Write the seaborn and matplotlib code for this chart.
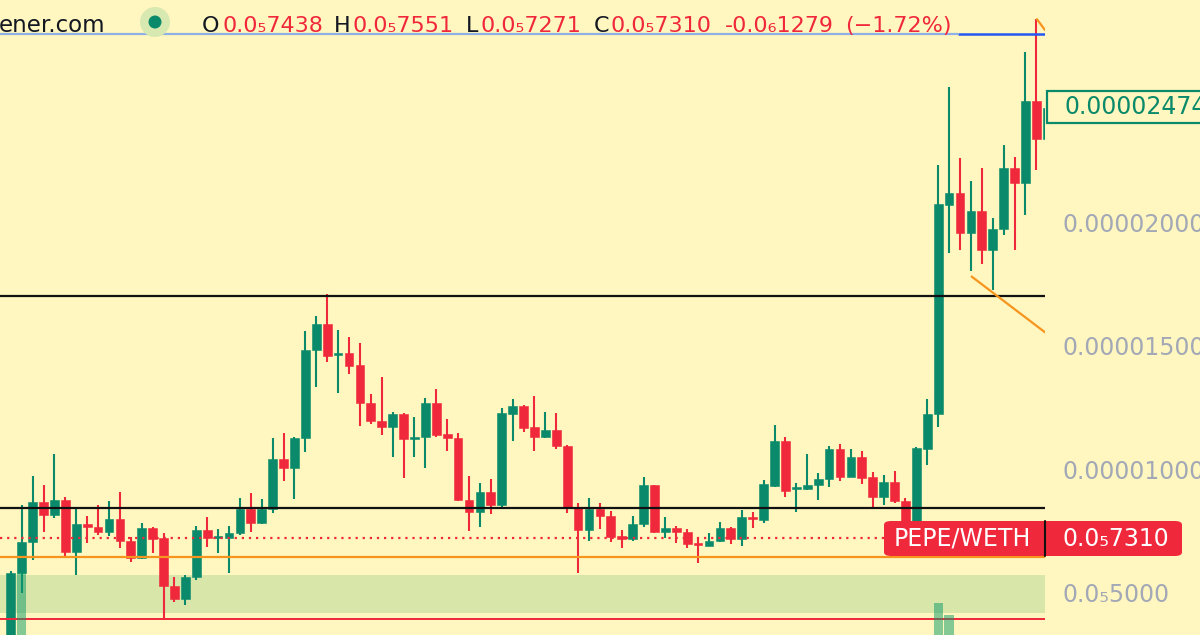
import matplotlib
matplotlib.use("Agg")
import matplotlib.pyplot as plt
import matplotlib.transforms as mtransforms
from matplotlib.patches import Rectangle, FancyBboxPatch, Ellipse
import numpy as np
import pandas as pd
import seaborn as sns

# ---------------- data (prices in units of 1e-6) ----------------
open_e6 = [2.00, 5.88, 7.14, 8.76, 8.24, 8.85, 6.76, 7.88, 7.77, 7.57,
           8.07, 7.19, 6.51, 7.71, 7.30, 5.37, 4.84, 5.72, 7.64, 7.32,
           7.32, 7.50, 8.48, 7.91, 8.48, 10.50, 10.16, 11.35, 14.93, 15.97,
           14.72, 14.82, 14.33, 12.80, 12.06, 11.82, 12.34, 11.33, 11.39, 12.80,
           11.53, 11.38, 8.85, 8.38, 9.17, 8.65, 12.34, 12.66, 11.82, 11.39,
           11.69, 11.05, 8.57, 7.64, 8.48, 8.20, 7.39, 7.26, 7.88, 9.45,
           7.57, 7.71, 7.54, 7.10, 7.00, 7.19, 7.71, 7.26, 8.18, 8.04,
           9.42, 11.26, 9.29, 9.29, 9.46, 9.69, 10.91, 9.80, 10.61, 9.77,
           8.99, 9.59, 8.82, 7.88, 10.92, 12.33, 20.81, 21.31, 19.69, 20.58,
           18.99, 19.83, 22.30, 21.69, 25.03, 23.49]
high_e6 = [5.97, 8.65, 9.83, 9.46, 10.72, 8.99, 8.52, 8.20, 8.65, 8.81,
           9.17, 7.37, 7.91, 7.77, 7.50, 5.74, 5.81, 7.80, 8.15, 7.67,
           7.80, 8.92, 9.15, 8.88, 11.35, 11.56, 11.42, 15.70, 16.32, 17.20,
           15.74, 15.45, 15.20, 13.15, 13.85, 12.41, 12.37, 12.23, 12.98, 13.34,
           12.12, 11.56, 9.84, 9.53, 9.69, 12.57, 12.93, 12.70, 13.08, 12.43,
           12.37, 11.08, 8.72, 8.92, 8.72, 8.41, 7.64, 8.20, 9.77, 9.47,
           8.15, 7.81, 7.68, 7.30, 7.50, 7.97, 7.77, 8.45, 8.38, 9.66,
           11.89, 11.39, 9.55, 10.72, 9.94, 11.04, 11.12, 10.91, 10.84, 10.00,
           9.87, 10.04, 8.95, 11.01, 12.93, 22.43, 25.61, 22.73, 21.78, 22.30,
           20.27, 23.24, 22.77, 27.02, 28.34, 24.80]
low_e6 = [1.90, 5.10, 6.42, 7.54, 8.14, 6.55, 5.81, 7.12, 7.43, 7.39,
          6.90, 6.35, 6.45, 6.69, 3.99, 4.73, 4.60, 5.61, 6.96, 6.69,
          5.91, 7.43, 7.57, 7.87, 8.31, 9.64, 8.88, 10.81, 13.45, 14.46,
          13.18, 13.95, 11.86, 11.92, 11.49, 10.61, 9.73, 10.61, 10.14, 11.42,
          10.85, 8.80, 7.61, 7.75, 8.27, 8.58, 11.24, 11.62, 10.84, 11.35,
          10.92, 8.31, 5.88, 7.19, 7.67, 7.16, 6.90, 7.20, 7.77, 7.50,
          7.32, 7.10, 6.90, 6.31, 6.98, 7.17, 7.06, 7.00, 7.73, 7.93,
          9.39, 8.96, 8.38, 9.26, 8.85, 9.39, 9.64, 9.77, 9.49, 8.56,
          8.65, 8.74, 7.72, 7.64, 10.27, 11.80, 18.88, 18.99, 18.15, 18.42,
          17.37, 19.59, 18.99, 20.41, 22.23, 23.45]
close_e6 = [5.91, 7.16, 8.76, 8.24, 8.85, 6.76, 7.88, 7.75, 7.57, 8.07,
            7.19, 6.51, 7.71, 7.27, 5.37, 4.84, 5.74, 7.64, 7.30, 7.39,
            7.53, 8.48, 7.91, 8.48, 10.50, 10.16, 11.38, 14.93, 15.97, 14.70,
            14.82, 14.30, 12.77, 12.06, 11.82, 12.34, 11.33, 11.42, 12.80, 11.49,
            11.35, 8.85, 8.38, 9.17, 8.65, 12.37, 12.66, 11.78, 11.39, 11.69,
            11.04, 8.55, 7.65, 8.48, 8.20, 7.37, 7.26, 7.88, 9.45, 7.57,
            7.71, 7.54, 7.06, 7.03, 7.19, 7.71, 7.26, 8.18, 8.07, 9.49,
            11.26, 9.22, 9.35, 9.46, 9.69, 10.91, 9.80, 10.61, 9.76, 8.99,
            9.59, 8.82, 7.84, 10.95, 12.33, 20.84, 21.31, 19.69, 20.58, 18.99,
            19.84, 22.30, 21.69, 25.03, 23.49, 24.74]

vol_index = [1, 85, 86]
vol_rel = [1.00, 0.52, 0.32]

tick_values_e6 = [20, 15, 10, 5]
tick_labels = ["0.00002000", "0.00001500", "0.00001000", "0.0\u20855000"]

resist_e6 = [17.12, 8.53]
orange_level_e6 = 6.54
red_level_e6 = 4.03
band_e6 = (4.27, 5.81)
blue_level_e6 = 27.76
pair_price_e6 = 7.31
last_price_e6 = 24.74

last_price_label = "0.00002474"
pair_label = "PEPE/WETH"
pair_price_label = "0.0\u20857310"
header_site = "ener.com"
header_items = [("O", "0.0\u20857438"), ("H", "0.0\u20857551"),
                ("L", "0.0\u20857271"), ("C", "0.0\u20857310")]
change_label = "-0.0\u20861279"
pct_label = "(\u22121.72%)"

# ---------------- style ----------------
sns.set_theme(style="white")
plt.rcParams["font.family"] = ["DejaVu Sans"]

BG = "#fff7bf"
UP = "#0b8a6b"
DOWN = "#f0283c"
AXIS_TXT = "#a2a8b6"

W, H = 1200, 635
fig = plt.figure(figsize=(W / 100, H / 100), dpi=100, facecolor=BG)

PLOT_R = 1045
ax = fig.add_axes([0, 0, PLOT_R / W, 1])
ax.set_facecolor("none")
ax.set_axis_off()

step = 10.91
x0 = 10.8
ax.set_xlim(-x0 / step, (PLOT_R - x0) / step)
ax.set_ylim(3.38, 29.12)

df = pd.DataFrame({"o": open_e6, "h": high_e6, "l": low_e6, "c": close_e6})
df["i"] = np.arange(len(df))
df["up"] = df["c"] >= df["o"]
colors = np.where(df["up"], UP, DOWN)

# band below candles
ax.axhspan(band_e6[0], band_e6[1], color="#d8e6aa", zorder=1, lw=0)

# wicks
ax.vlines(df["i"], df["l"], df["h"], colors=colors, lw=1.5, zorder=3)
# bodies
bottom = np.minimum(df["o"], df["c"])
height = np.maximum(np.abs(df["c"] - df["o"]), 0.07)
ax.bar(df["i"], height, bottom=bottom, width=0.8, color=colors,
       edgecolor=colors, lw=0.4, zorder=4)

# horizontal drawings (over candles)
for lv in resist_e6:
    ax.axhline(lv, color="#111111", lw=1.6, zorder=6)
ax.axhline(orange_level_e6, color="#f7941d", lw=1.6, zorder=6)
ax.axhline(red_level_e6, color="#f0283c", lw=1.4, zorder=6)
ax.axhline(pair_price_e6, color="#f0283c", lw=1.6, ls=(0, (1, 2.2)), zorder=6)
xl = ax.get_xlim()
xb = (958 - x0) / step
ax.hlines(blue_level_e6, xl[0], xb, color="#8fb0e6", lw=1.6, zorder=6)
ax.hlines(blue_level_e6, xb, xl[1], color="#2456f2", lw=1.8, zorder=6)

# orange trend lines
ax.plot([(971 - x0) / step, (1046 - x0) / step], [17.93, 15.62],
        color="#f7941d", lw=1.6, zorder=6, solid_capstyle="butt")
ax.plot([(1037 - x0) / step, (1045 - x0) / step], [28.34, 27.90],
        color="#f7941d", lw=1.6, zorder=6)

# volume bars (twin axis)
axv = ax.twinx()
axv.set_axis_off()
axv.set_ylim(0, 635 / 62)
axv.bar(vol_index, vol_rel, width=0.85, color="#0a9a6a", alpha=0.5, lw=0, zorder=2)

# ---------------- text overlays ----------------
def fx(px):
    return px / W

def fy(py):
    return 1 - py / H

# right axis labels
trans = mtransforms.blended_transform_factory(ax.transAxes, ax.transData)
for v, lab in zip(tick_values_e6, tick_labels):
    ax.text(1063 / PLOT_R, v, lab, transform=trans, ha="left", va="center",
            fontsize=17, color=AXIS_TXT, clip_on=False)

# last price box
fig.add_artist(Rectangle((fx(1047), fy(123)), (1210 - 1047) / W, 32 / H,
                         transform=fig.transFigure, facecolor=BG,
                         edgecolor=UP, lw=1.6, zorder=10))
fig.text(fx(1064), fy(107.5), last_price_label, ha="left", va="center",
         fontsize=17, color=UP, zorder=12)

# pair label
fig.add_artist(FancyBboxPatch((fx(884), fy(556)), (1182 - 884) / W, 35 / H,
                              boxstyle="round,pad=0,rounding_size=0.006",
                              transform=fig.transFigure, facecolor="#f0283c",
                              edgecolor="none", zorder=10))
fig.add_artist(plt.Line2D([fx(1044.5), fx(1044.5)], [fy(521), fy(556)],
                          transform=fig.transFigure, color="#111111", lw=1.5, zorder=11))
fig.text(fx(894), fy(538.5), pair_label, ha="left", va="center",
         fontsize=17, color="white", zorder=12)
fig.text(fx(1062), fy(538.5), pair_price_label, ha="left", va="center",
         fontsize=17, color="white", zorder=12)

# header
fig.text(fx(-1), fy(32), header_site, ha="left", va="baseline",
         fontsize=16.5, color="#131722", zorder=12)
fig.add_artist(Ellipse((fx(155), fy(22)), 30 / W, 30 / H, transform=fig.transFigure,
                       facecolor="#d7e8b0", edgecolor="none", zorder=11))
fig.add_artist(Ellipse((fx(155), fy(22)), 13 / W, 13 / H, transform=fig.transFigure,
                       facecolor=UP, edgecolor="none", zorder=12))
label_x = [(202, 222), (334, 353), (466, 481), (594, 611)]
for (k, v), (xk, xv) in zip(header_items, label_x):
    fig.text(fx(xk), fy(32), k, ha="left", va="baseline", fontsize=16,
             color="#131722", zorder=12)
    fig.text(fx(xv), fy(32), v, ha="left", va="baseline", fontsize=16,
             color=DOWN, zorder=12)
fig.text(fx(725), fy(32), change_label, ha="left", va="baseline", fontsize=16,
         color=DOWN, zorder=12)
fig.text(fx(845), fy(32), pct_label, ha="left", va="baseline", fontsize=16,
         color=DOWN, zorder=12)

fig.savefig("out.png", dpi=100, facecolor=BG)
